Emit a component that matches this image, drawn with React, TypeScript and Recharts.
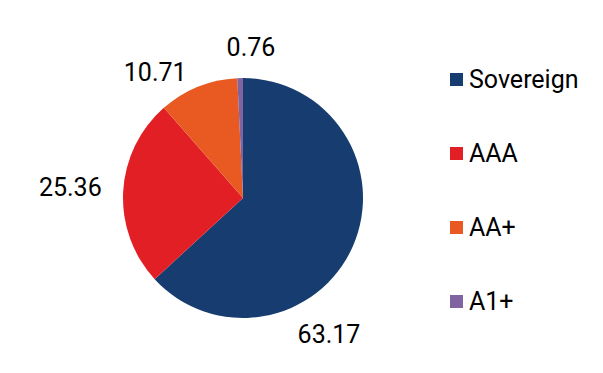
import React from "react";
import { Cell, Legend, Pie, PieChart } from "recharts";

const ratings = ["Sovereign", "AAA", "AA+", "A1+"];
const shares = [63.17, 25.36, 10.71, 0.76];
const colors = ["#173d70", "#e31f26", "#e95a22", "#8064a2"];

// nudges so labels sit where the original placed them (degrees, px past the rim)
const labelShift: Record<string, [number, number]> = {
  Sovereign: [-34, 41],
  AAA: [-0.5, 53],
  "AA+": [13, 33],
  "A1+": [-4.4, 31],
};

const data = ratings.map((name, i) => ({ name, value: shares[i] }));

const RAD = Math.PI / 180;

const renderLabel = (props: any) => {
  const { cx, cy, midAngle, outerRadius, value, name } = props;
  const [da, dr] = labelShift[name] ?? [0, 35];
  const a = (midAngle + da) * RAD;
  const r = outerRadius + dr;
  const x = cx + r * Math.cos(a);
  const y = cy - r * Math.sin(a);
  return (
    <text
      x={x}
      y={y}
      textAnchor="middle"
      dominantBaseline="central"
      fill="#000"
      fontSize={25}
      fontFamily="Roboto"
    >
      {value.toFixed(2)}
    </text>
  );
};

const renderLegend = () => (
  <div style={{ fontFamily: "Roboto", fontSize: 25, color: "#000" }}>
    {ratings.map((name, i) => (
      <div
        key={name}
        style={{ display: "flex", alignItems: "center", height: 74 }}
      >
        <span
          style={{
            display: "inline-block",
            width: 13,
            height: 13,
            background: colors[i],
            marginRight: 6,
          }}
        />
        {name}
      </div>
    ))}
  </div>
);

export default function App() {
  return (
    <div style={{ position: "absolute", left: 0, top: 0, background: "#fff" }}>
      <PieChart width={603} height={373}>
        <Pie
          data={data}
          dataKey="value"
          nameKey="name"
          cx={238}
          cy={193}
          outerRadius={120}
          startAngle={90}
          endAngle={-270}
          stroke="none"
          label={renderLabel}
          labelLine={false}
          isAnimationActive={false}
        >
          {data.map((d, i) => (
            <Cell key={d.name} fill={colors[i]} />
          ))}
        </Pie>
        <Legend
          content={renderLegend}
          wrapperStyle={{ left: 450, top: 42, width: 150 }}
        />
      </PieChart>
    </div>
  );
}
